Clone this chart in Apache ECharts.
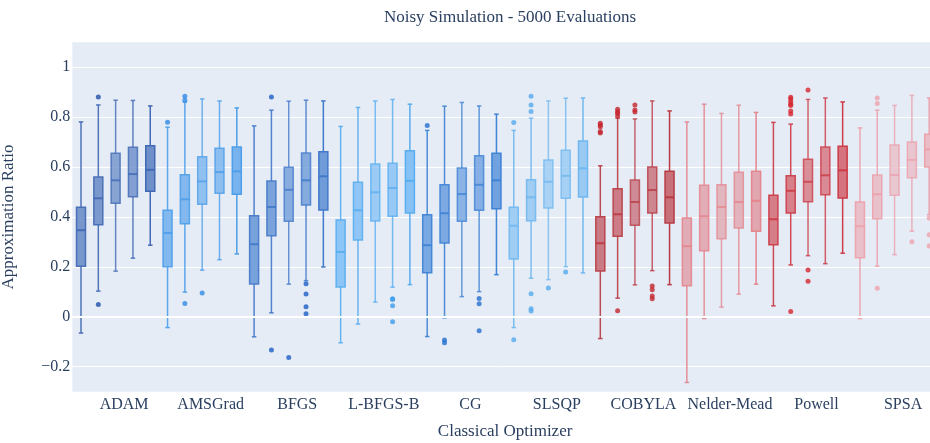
<!DOCTYPE html>
<html>
<head>
<meta charset="utf-8">
<script src="https://cdn.jsdelivr.net/npm/echarts@6/dist/echarts.min.js"></script>
<style>
  html, body { margin: 0; padding: 0; background: #ffffff; }
  #chart { width: 930px; height: 443px; }
</style>
</head>
<body>
<div id="chart"></div>
<script>
// Classical optimizers, five independent runs each (50 boxes in total)
const optimizers = ['ADAM', 'AMSGrad', 'BFGS', 'L-BFGS-B', 'CG', 'SLSQP', 'COBYLA', 'Nelder-Mead', 'Powell', 'SPSA'];
const runsPerOptimizer = 5;

// Box statistics per run, five values per optimizer on each line
const lowerWhisker = [
  -0.065, 0.103, 0.183, 0.235, 0.287,
  -0.043, 0.099, 0.187, 0.229, 0.252,
  -0.080, 0.016, 0.131, 0.145, 0.200,
  -0.104, -0.029, 0.059, 0.119, 0.129,
  -0.079, -0.004, 0.081, 0.101, 0.169,
  -0.043, 0.155, 0.149, 0.201, 0.176,
  -0.087, 0.075, 0.128, 0.185, 0.129,
  -0.263, -0.007, 0.039, 0.091, 0.131,
  0.044, 0.208, 0.245, 0.213, 0.255,
  -0.007, 0.203, 0.249, 0.343, 0.409
];
const q1 = [
  0.203, 0.369, 0.455, 0.481, 0.503,
  0.201, 0.373, 0.451, 0.495, 0.491,
  0.132, 0.325, 0.383, 0.448, 0.428,
  0.120, 0.308, 0.384, 0.403, 0.416,
  0.177, 0.296, 0.383, 0.427, 0.433,
  0.232, 0.385, 0.436, 0.475, 0.480,
  0.184, 0.323, 0.367, 0.416, 0.376,
  0.125, 0.265, 0.313, 0.356, 0.343,
  0.289, 0.416, 0.461, 0.489, 0.476,
  0.237, 0.393, 0.487, 0.557, 0.600
];
const median = [
  0.347, 0.475, 0.547, 0.572, 0.589,
  0.336, 0.471, 0.543, 0.580, 0.583,
  0.291, 0.440, 0.509, 0.547, 0.563,
  0.260, 0.427, 0.499, 0.516, 0.545,
  0.287, 0.415, 0.492, 0.529, 0.547,
  0.365, 0.479, 0.541, 0.565, 0.595,
  0.295, 0.411, 0.460, 0.508, 0.479,
  0.283, 0.403, 0.440, 0.460, 0.465,
  0.391, 0.505, 0.541, 0.567, 0.587,
  0.363, 0.491, 0.568, 0.629, 0.671
];
const q3 = [
  0.439, 0.560, 0.655, 0.679, 0.685,
  0.427, 0.569, 0.641, 0.675, 0.680,
  0.405, 0.544, 0.599, 0.656, 0.661,
  0.388, 0.539, 0.612, 0.615, 0.665,
  0.409, 0.529, 0.596, 0.645, 0.655,
  0.439, 0.549, 0.628, 0.667, 0.705,
  0.401, 0.513, 0.548, 0.600, 0.583,
  0.396, 0.527, 0.529, 0.579, 0.583,
  0.487, 0.565, 0.631, 0.680, 0.683,
  0.460, 0.568, 0.688, 0.701, 0.732
];
const upperWhisker = [
  0.781, 0.849, 0.868, 0.867, 0.845,
  0.760, 0.860, 0.873, 0.865, 0.837,
  0.765, 0.828, 0.864, 0.868, 0.865,
  0.763, 0.839, 0.865, 0.871, 0.852,
  0.747, 0.844, 0.859, 0.845, 0.812,
  0.747, 0.796, 0.865, 0.876, 0.877,
  0.605, 0.796, 0.793, 0.865, 0.825,
  0.781, 0.852, 0.815, 0.848, 0.819,
  0.779, 0.772, 0.871, 0.877, 0.861,
  0.757, 0.828, 0.847, 0.887, 0.877
];
// Outlying runs: [box index, approximation ratio]
const outliers = [
  [1, 0.881], [1, 0.049],
  [5, 0.780], [6, 0.884], [6, 0.868], [6, 0.053], [7, 0.095],
  [11, 0.881], [11, -0.133], [12, -0.163], [13, 0.133], [13, 0.091], [13, 0.040], [13, 0.012],
  [18, 0.072], [18, 0.069], [18, 0.044], [18, -0.020],
  [20, 0.767], [21, -0.093], [21, -0.104], [23, 0.073], [23, 0.052], [23, -0.056],
  [25, 0.779], [25, -0.092], [26, 0.884], [26, 0.849], [26, 0.823], [26, 0.092], [26, 0.032], [26, 0.023],
  [27, 0.116], [28, 0.180],
  [30, 0.776], [30, 0.769], [30, 0.762], [30, 0.743], [30, 0.737],
  [31, 0.832], [31, 0.822], [31, 0.816], [31, 0.805], [31, 0.024],
  [32, 0.849], [32, 0.829], [32, 0.821],
  [33, 0.124], [33, 0.108], [33, 0.083], [33, 0.072],
  [41, 0.880], [41, 0.873], [41, 0.862], [41, 0.852], [41, 0.847], [41, 0.825], [41, 0.813], [41, 0.021],
  [42, 0.909], [42, 0.188], [42, 0.143],
  [46, 0.877], [46, 0.855], [46, 0.115],
  [48, 0.301], [49, 0.396], [49, 0.329], [49, 0.284]
];
const yTicks = [-0.2, 0, 0.2, 0.4, 0.6, 0.8, 1];

// Per-optimizer palette: outline, box fill, outlier marker
const lineColors = ['#4169b4', '#4e9ee9', '#4279ca', '#5aaeef', '#3f83d4', '#72b8f0', '#b93c45', '#e4878f', '#cc3b46', '#eba2ad'];
const fillColors = ['#6e8fc9', '#78b3ed', '#6f9bd8', '#86c1f5', '#70a2e0', '#99caf3', '#c8707a', '#e1a6b0', '#d5747e', '#e9bcc6'];
const pointColors = ['#1f50aa', '#2f8ae6', '#1d5fc4', '#3d9cec', '#2470d0', '#55aaee', '#c4262e', '#e07a86', '#d6262f', '#eda2ac'];
// Run-to-run shading inside each optimizer group
const runOpacity = [0.92, 0.9, 0.78, 0.82, 1];

const FONT = '"Liberation Serif", "Times New Roman", serif';
const TEXT = '#2a3f5f';

const boxKeys = [];
const boxRows = [];
optimizers.forEach((name, g) => {
  for (let r = 0; r < runsPerOptimizer; r++) {
    const i = g * runsPerOptimizer + r;
    boxKeys.push(name + ' #' + (r + 1));
    boxRows.push([i, lowerWhisker[i], q1[i], median[i], q3[i], upperWhisker[i]]);
  }
});

function renderBox(params, api) {
  const idx = api.value(0);
  const g = Math.floor(idx / runsPerOptimizer);
  const op = runOpacity[idx % runsPerOptimizer];
  const x = api.coord([idx, 0])[0];
  const yLo = api.coord([idx, api.value(1)])[1];
  const yQ1 = api.coord([idx, api.value(2)])[1];
  const yMed = api.coord([idx, api.value(3)])[1];
  const yQ3 = api.coord([idx, api.value(4)])[1];
  const yHi = api.coord([idx, api.value(5)])[1];
  const band = api.size([1, 0])[0];
  const half = band * 0.26;
  const cap = half * 0.5;
  const stroke = lineColors[g];
  const ls = { stroke: stroke, lineWidth: 1.5, fill: null, opacity: op };
  return {
    type: 'group',
    children: [
      { type: 'line', shape: { x1: x, y1: yHi, x2: x, y2: yQ3 }, style: ls },
      { type: 'line', shape: { x1: x, y1: yQ1, x2: x, y2: yLo }, style: ls },
      { type: 'line', shape: { x1: x - cap, y1: yHi, x2: x + cap, y2: yHi }, style: ls },
      { type: 'line', shape: { x1: x - cap, y1: yLo, x2: x + cap, y2: yLo }, style: ls },
      { type: 'rect', shape: { x: x - half, y: yQ3, width: half * 2, height: yQ1 - yQ3 },
        style: { fill: fillColors[g], stroke: stroke, lineWidth: 1.5, opacity: op } },
      { type: 'line', shape: { x1: x - half, y1: yMed, x2: x + half, y2: yMed },
        style: { stroke: stroke, lineWidth: 2, fill: null, opacity: op } }
    ]
  };
}

const chart = echarts.init(document.getElementById('chart'), null, { renderer: 'canvas' });
chart.setOption({
  animation: false,
  backgroundColor: '#ffffff',
  title: {
    text: 'Noisy Simulation - 5000 Evaluations',
    left: 505,
    top: 4,
    textAlign: 'center',
    textStyle: { fontFamily: FONT, fontSize: 17, fontWeight: 'normal', color: TEXT }
  },
  grid: {
    left: 72.35,
    right: -7.85,
    top: 42.3,
    bottom: 51.3,
    show: true,
    backgroundColor: '#E5ECF6',
    borderWidth: 0,
    containLabel: false,
    outerBoundsMode: 'none'
  },
  xAxis: {
    type: 'category',
    data: boxKeys,
    boundaryGap: true,
    name: 'Classical Optimizer',
    nameLocation: 'middle',
    nameGap: 31,
    nameTextStyle: { fontFamily: FONT, fontSize: 17, color: TEXT },
    axisLine: { show: false },
    axisTick: { show: false },
    splitLine: { show: false },
    axisLabel: {
      interval: (idx) => idx % runsPerOptimizer === 2,
      formatter: (val, idx) => optimizers[Math.floor(idx / runsPerOptimizer)],
      padding: [0, 0, 0, 17],
      margin: 5,
      fontFamily: FONT,
      fontSize: 16,
      color: TEXT,
      hideOverlap: false
    }
  },
  yAxis: {
    type: 'value',
    min: -0.3,
    max: 1.1,
    interval: 0.1,
    name: 'Approximation Ratio',
    nameLocation: 'middle',
    nameGap: 55,
    nameTextStyle: { fontFamily: FONT, fontSize: 17, color: TEXT },
    axisLine: { show: false },
    axisTick: { show: false },
    axisLabel: {
      margin: 2,
      fontFamily: FONT,
      fontSize: 16,
      color: TEXT,
      formatter: (v) => {
        const t = yTicks.find((k) => Math.abs(k - v) < 1e-6);
        if (t === undefined) return '';
        return t < 0 ? '\u2212' + Math.abs(t) : String(t);
      }
    },
    splitLine: {
      show: true,
      lineStyle: { color: ['rgba(0,0,0,0)', '#ffffff'], width: 1 }
    }
  },
  series: [
    {
      // zero line
      type: 'line',
      data: [],
      silent: true,
      z: 1,
      markLine: {
        silent: true,
        symbol: 'none',
        label: { show: false },
        lineStyle: { color: '#ffffff', width: 2, type: 'solid' },
        data: [{ yAxis: 0 }]
      }
    },
    {
      type: 'custom',
      renderItem: renderBox,
      data: boxRows,
      encode: { x: 0, y: [1, 2, 3, 4, 5] },
      z: 3
    },
    {
      type: 'scatter',
      data: outliers,
      symbol: 'circle',
      symbolSize: 5,
      z: 4,
      itemStyle: {
        color: (p) => pointColors[Math.floor(p.data[0] / runsPerOptimizer)]
      }
    }
  ]
});
</script>
</body>
</html>
